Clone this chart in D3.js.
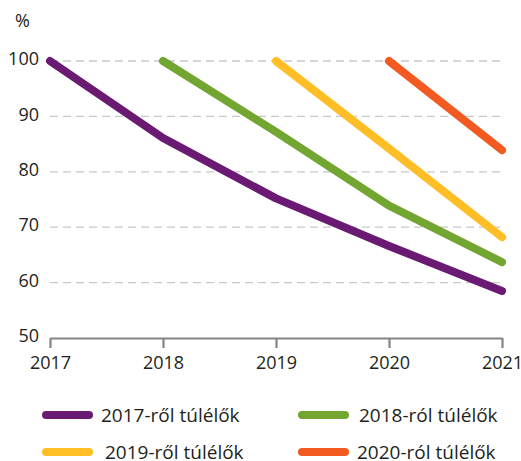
<!DOCTYPE html>
<html lang="hu">
<head>
	<meta charset="UTF-8">
	<title>Túlélők</title>
	<style type="text/css">
		body { margin: 0; background: #fff; font-family: "Open Sans", sans-serif; }
		.axis text { font-size: 18px; fill: #231f20; font-family: "Open Sans", sans-serif; }
		.grid line { stroke: #c8c8c8; stroke-width: 1.3; stroke-dasharray: 8,5; }
		.legend text { font-size: 19px; fill: #231f20; }
	</style>
	<script src="https://d3js.org/d3.v7.min.js"></script>
</head>
<body>
<script type="text/javascript">
	// Data
	var years = [2017, 2018, 2019, 2020, 2021];
	var yTicks = [50, 60, 70, 80, 90, 100];
	var seriesNames = ["2017-ről túlélők", "2018-ról túlélők", "2019-ről túlélők", "2020-ról túlélők"];
	var seriesColors = ["#6a1a73", "#72a631", "#ffbe26", "#f25a22"];
	var s2017 = [100, 86.1, 75.2, 66.6, 58.5];
	var s2018 = [null, 100, 87.2, 73.9, 63.7];
	var s2019 = [null, null, 100, 84.2, 68.2];
	var s2020 = [null, null, null, 100, 83.9];
	var seriesValues = [s2017, s2018, s2019, s2020];

	var fullWidth = 521, fullHeight = 461;
	var margin = {top: 61, right: 18, bottom: 123, left: 50};
	var width = fullWidth - margin.left - margin.right;
	var height = fullHeight - margin.top - margin.bottom;

	var svg = d3.select("body").append("svg")
		.attr("width", fullWidth)
		.attr("height", fullHeight)
		.append("g")
		.attr("transform", "translate(" + margin.left + "," + margin.top + ")");

	var x = d3.scaleLinear().domain([2017, 2021]).range([0, width - 1]);
	var y = d3.scaleLinear().domain([50, 100]).range([height, 0]);

	// dashed gridlines
	svg.append("g")
		.attr("class", "grid")
		.selectAll("line")
		.data(yTicks.filter(function(d){ return d > 50; }))
		.enter().append("line")
		.attr("x1", 0)
		.attr("x2", width - 2)
		.attr("y1", function(d){ return y(d); })
		.attr("y2", function(d){ return y(d); });

	// y labels
	var yAxis = svg.append("g")
		.attr("class", "axis")
		.call(d3.axisLeft(y).tickValues(yTicks).tickSize(0).tickPadding(11));
	yAxis.select(".domain").remove();
	yAxis.selectAll("text").attr("dy", "0.2em");

	svg.append("text")
		.attr("x", -35)
		.attr("y", -34)
		.style("font-size", "18px")
		.style("fill", "#231f20")
		.text("%");

	// x axis
	var xAxis = svg.append("g")
		.attr("class", "axis")
		.attr("transform", "translate(0," + height + ")")
		.call(d3.axisBottom(x).tickValues(years).tickFormat(d3.format("d")).tickSize(10).tickPadding(5).tickSizeOuter(0));
	xAxis.select(".domain").attr("stroke", "#858585").attr("stroke-width", 2.2);
	xAxis.selectAll(".tick line").attr("stroke", "#858585").attr("stroke-width", 2.2);
	xAxis.selectAll("text").attr("dy", "0.9em");

	// lines
	var line = d3.line()
		.defined(function(d){ return d != null; })
		.x(function(d, i){ return x(years[i]); })
		.y(function(d){ return y(d); });

	svg.selectAll(".series")
		.data(seriesValues)
		.enter().append("path")
		.attr("class", "series")
		.attr("fill", "none")
		.attr("stroke", function(d, i){ return seriesColors[i]; })
		.attr("stroke-width", 8)
		.attr("stroke-linecap", "round")
		.attr("stroke-linejoin", "round")
		.attr("d", line);

	// legend
	var legendCols = [-8, 248, -8, 248];
	var legendRows = [354, 354, 391, 391];
	var legendTextX = [59, 61, 63, 59];
	var legend = svg.append("g").attr("class", "legend");
	var item = legend.selectAll("g")
		.data(seriesNames)
		.enter().append("g")
		.attr("transform", function(d, i){ return "translate(" + legendCols[i] + "," + legendRows[i] + ")"; });
	item.append("line")
		.attr("x1", 4).attr("x2", 47)
		.attr("y1", 0).attr("y2", 0)
		.attr("stroke", function(d, i){ return seriesColors[i]; })
		.attr("stroke-width", 8)
		.attr("stroke-linecap", "round");
	item.append("text")
		.attr("x", function(d, i){ return legendTextX[i]; })
		.attr("y", 0)
		.attr("dy", "0.35em")
		.text(function(d){ return d; });
</script>
</body>
</html>
